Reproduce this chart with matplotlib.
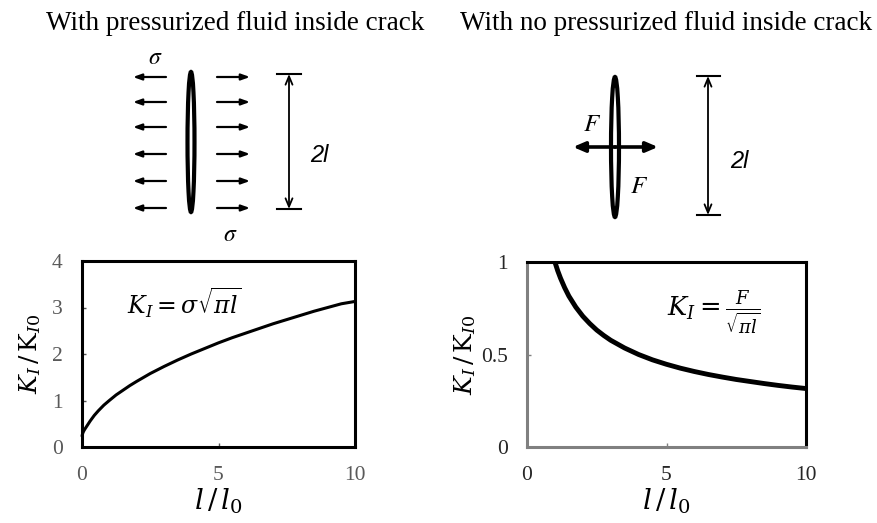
import matplotlib
matplotlib.use("Agg")
import matplotlib.pyplot as plt
from matplotlib.patches import Ellipse

plt.rcParams['mathtext.fontset'] = 'dejavuserif'

# ---- data ----
x_left = [0, 0.01, 0.03, 0.06, 0.1, 0.2, 0.3, 0.45, 0.6, 0.8, 1, 1.25, 1.5, 1.75, 2, 2.5, 3, 3.5,
          4, 4.5, 5, 5.5, 6, 6.5, 7, 7.5, 8, 8.5, 9, 9.5, 10]
y_left = [0.22, 0.26, 0.3, 0.34, 0.38, 0.47, 0.56, 0.68, 0.78, 0.9, 1.0, 1.12, 1.22, 1.32, 1.41,
          1.58, 1.73, 1.87, 2.0, 2.12, 2.24, 2.35, 2.45, 2.55, 2.65, 2.74, 2.83, 2.92, 3.0, 3.08, 3.13]
x_right = [1, 1.1, 1.2, 1.35, 1.5, 1.75, 2, 2.25, 2.5, 2.75, 3, 3.5, 4, 4.5, 5, 5.5, 6, 6.5,
           7, 7.5, 8, 8.5, 9, 9.5, 10]
y_right = [1.0, 0.953, 0.913, 0.861, 0.816, 0.756, 0.707, 0.667, 0.632, 0.603, 0.577, 0.535,
           0.5, 0.471, 0.447, 0.426, 0.408, 0.392, 0.378, 0.365, 0.354, 0.343, 0.333, 0.324, 0.316]
x_ticks = [0, 5, 10]
y_ticks_left = [0, 1, 2, 3, 4]
y_ticks_right = [0, 0.5, 1]
y_ticklabels_right = ["0", "0.5", "1"]
title_left = "With pressurized fluid inside crack"
title_right = "With no pressurized fluid inside crack"

W, H = 877, 523
fig = plt.figure(figsize=(W / 100, H / 100), dpi=100)

def fx(px):
    return px / W

def fy(py):
    return 1 - py / H

# ---- plots ----
axL = fig.add_axes([fx(82), fy(447), fx(355) - fx(82), fy(261) - fy(447)])
axR = fig.add_axes([fx(527), fy(447), fx(806) - fx(527), fy(262) - fy(447)])

xlab = r'$l\,/\,l_0$'
ylab = r'$K_I\,/\,\mathrm{K}_{I0}$'

axL.plot(x_left, y_left, color='black', lw=2.2, clip_on=False, zorder=3,
         solid_joinstyle='round', solid_capstyle='butt')
axL.set_xlim(0, 10)
axL.set_ylim(0, 4)
axL.set_xticks(x_ticks)
axL.set_yticks(y_ticks_left)
for s in axL.spines.values():
    s.set_linewidth(2.2)
    s.set_color('black')
axL.tick_params(direction='in', length=3, width=1, pad=14, labelcolor='#595959', color='#555555')
for lab in axL.get_xticklabels() + axL.get_yticklabels():
    lab.set_fontfamily('Liberation Serif')
    lab.set_fontsize(15.5)
axL.set_xlabel(xlab, fontsize=20, labelpad=1)
axL.set_ylabel(ylab, fontsize=18, labelpad=6)
axL.text(0.375, 0.774, r'$K_I = \sigma\sqrt{\pi l}$', transform=axL.transAxes,
         fontsize=17, ha='center', va='center')

axR.plot(x_right, y_right, color='black', lw=3.5, clip_on=False, zorder=3,
         solid_joinstyle='round', solid_capstyle='butt')
axR.set_xlim(0, 10)
axR.set_ylim(0, 1)
axR.set_xticks(x_ticks)
axR.set_yticks(y_ticks_right)
axR.set_yticklabels(y_ticklabels_right)
for side in ['left', 'bottom']:
    axR.spines[side].set_color('#808080')
    axR.spines[side].set_linewidth(2.2)
for side in ['top', 'right']:
    axR.spines[side].set_color('black')
    axR.spines[side].set_linewidth(2.2)
axR.tick_params(direction='in', length=3, width=1, pad=14, labelcolor='#262626', color='#808080')
for lab in axR.get_xticklabels() + axR.get_yticklabels():
    lab.set_fontfamily('Liberation Serif')
    lab.set_fontsize(15.5)
axR.set_xlabel(xlab, fontsize=20, labelpad=1)
axR.set_ylabel(ylab, fontsize=18, labelpad=2)
axR.text(0.67, 0.73, r'$K_I = \frac{F}{\sqrt{\pi l}}$', transform=axR.transAxes,
         fontsize=18.5, ha='center', va='center')

# ---- schematic (pixel coordinates on an overlay axes) ----
ov = fig.add_axes([0, 0, 1, 1], zorder=-1)
ov.set_xlim(0, W)
ov.set_ylim(H, 0)
ov.axis('off')

ov.text(235, 24, title_left, family='Liberation Serif', fontsize=19.5, ha='center', va='center')
ov.text(666, 24, title_right, family='Liberation Serif', fontsize=19.5, ha='center', va='center')

# left crack with stress arrows
arrow_rows = [77, 102, 127, 154, 181, 208]
for yy in arrow_rows:
    ov.annotate('', xy=(133, yy), xytext=(166, yy),
                arrowprops=dict(arrowstyle='-|>,head_length=0.5,head_width=0.18', lw=1.6, color='black',
                                shrinkA=0, shrinkB=0))
    ov.annotate('', xy=(250, yy), xytext=(217, yy),
                arrowprops=dict(arrowstyle='-|>,head_length=0.5,head_width=0.18', lw=1.6, color='black',
                                shrinkA=0, shrinkB=0))
ov.add_patch(Ellipse((191, 142), 7, 140, facecolor='white', edgecolor='black', lw=3))
ov.text(155, 57, r'$\sigma$', fontsize=17, ha='center', va='center', math_fontfamily='stix')
ov.text(230, 234, r'$\sigma$', fontsize=17, ha='center', va='center', math_fontfamily='stix')

# left dimension line
ov.annotate('', xy=(289, 74), xytext=(289, 209),
            arrowprops=dict(arrowstyle='<->,head_length=0.6,head_width=0.25', lw=1.3, color='black',
                            shrinkA=0, shrinkB=0))
ov.plot([277, 301], [74, 74], color='black', lw=1.5)
ov.plot([277, 301], [209, 209], color='black', lw=1.5)
ov.text(319, 156, '2l', family='Liberation Sans', style='italic', fontsize=17, ha='center', va='center')

# right crack with point forces
ov.add_patch(Ellipse((615, 147), 8, 140, facecolor='white', edgecolor='black', lw=3))
ov.annotate('', xy=(573, 147), xytext=(615, 147),
            arrowprops=dict(arrowstyle='-|>,head_length=0.7,head_width=0.3', lw=2.6, color='black',
                            shrinkA=0, shrinkB=0))
ov.annotate('', xy=(658, 147), xytext=(615, 147),
            arrowprops=dict(arrowstyle='-|>,head_length=0.7,head_width=0.3', lw=2.6, color='black',
                            shrinkA=0, shrinkB=0))
ov.text(592, 124, r'$F$', fontsize=18, ha='center', va='center', math_fontfamily='stix')
ov.text(639, 186, r'$F$', fontsize=18, ha='center', va='center', math_fontfamily='stix')

# right dimension line
ov.annotate('', xy=(708, 76), xytext=(708, 215),
            arrowprops=dict(arrowstyle='<->,head_length=0.6,head_width=0.25', lw=1.3, color='black',
                            shrinkA=0, shrinkB=0))
ov.plot([697, 720], [76, 76], color='black', lw=1.5)
ov.plot([697, 720], [215, 215], color='black', lw=1.5)
ov.text(739, 162, '2l', family='Liberation Sans', style='italic', fontsize=17, ha='center', va='center')

fig.savefig('out.png', dpi=100)
